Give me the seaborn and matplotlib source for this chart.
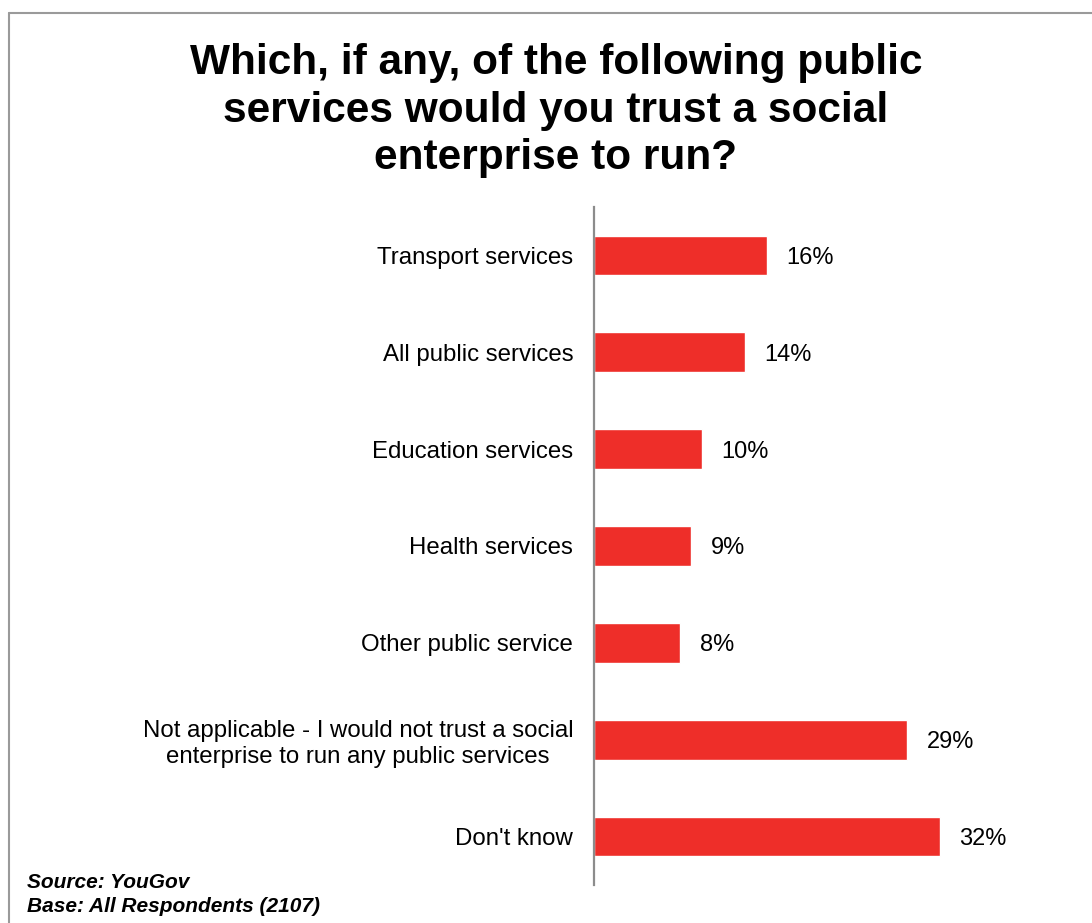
"""Survey bar chart: trust in social enterprises to run public services."""

import matplotlib.pyplot as plt
from matplotlib.lines import Line2D
import pandas as pd
import seaborn as sns

categories = [
    "Transport services",
    "All public services",
    "Education services",
    "Health services",
    "Other public service",
    "Not applicable - I would not trust a social\nenterprise to run any public services",
    "Don't know",
]
shares = [16, 14, 10, 9, 8, 29, 32]
share_labels = ["16%", "14%", "10%", "9%", "8%", "29%", "32%"]

title_text = "Which, if any, of the following public\nservices would you trust a social\nenterprise to run?"
source_lines = ["Source: YouGov", "Base: All Respondents (2107)"]

BAR_RED = "#EE2E29"
AXIS_GREY = "#8C8C8C"

sns.set_style("white")
plt.rcParams["font.family"] = ["Liberation Sans", "DejaVu Sans"]
plt.rcParams["text.color"] = "black"
plt.rcParams["ytick.color"] = "black"

df = pd.DataFrame({"category": categories, "share": shares})

fig = plt.figure(figsize=(10.92, 9.23), dpi=100)
ax = fig.add_axes([594 / 1092, 1 - 885 / 923, 446 / 1092, (885 - 207) / 923])

sns.barplot(data=df, x="share", y="category", orient="h", color=BAR_RED,
            width=0.41, saturation=1, ax=ax)
value_texts = ax.bar_label(ax.containers[0], labels=share_labels, padding=14,
                           fontsize=17, color="black")
for t in value_texts:
    t.set_verticalalignment("center_baseline")

ax.set_xlim(0, 41.3)
ax.set_ylim(6.5, -0.5)
ax.set_xlabel("")
ax.set_ylabel("")
ax.set_xticks([])
ax.tick_params(axis="y", length=0, pad=15, labelsize=17.3, labelcolor="black")
for label in ax.get_yticklabels():
    label.set_multialignment("center")

for side in ("top", "right", "bottom"):
    ax.spines[side].set_visible(False)
ax.spines["left"].set_color(AXIS_GREY)
ax.spines["left"].set_linewidth(1.6)

fig.text(556 / 1092, 1 - 43 / 923, title_text, ha="center", va="top",
         fontsize=30.5, fontweight="bold", linespacing=1.25, color="black")

for i, line in enumerate(source_lines):
    fig.text(27 / 1092, 1 - (888 + 24 * i) / 923, line, ha="left", va="baseline",
             fontsize=15, fontweight="bold", fontstyle="italic", color="black")

# slide frame (left and top edges)
fig.add_artist(Line2D([9 / 1092, 9 / 1092], [0, 1 - 13 / 923], color="#9A9A9A", lw=1.5))
fig.add_artist(Line2D([9 / 1092, 1], [1 - 13 / 923, 1 - 13 / 923], color="#9A9A9A", lw=1.5))

fig.savefig("out.png", dpi=100)
plt.close(fig)
